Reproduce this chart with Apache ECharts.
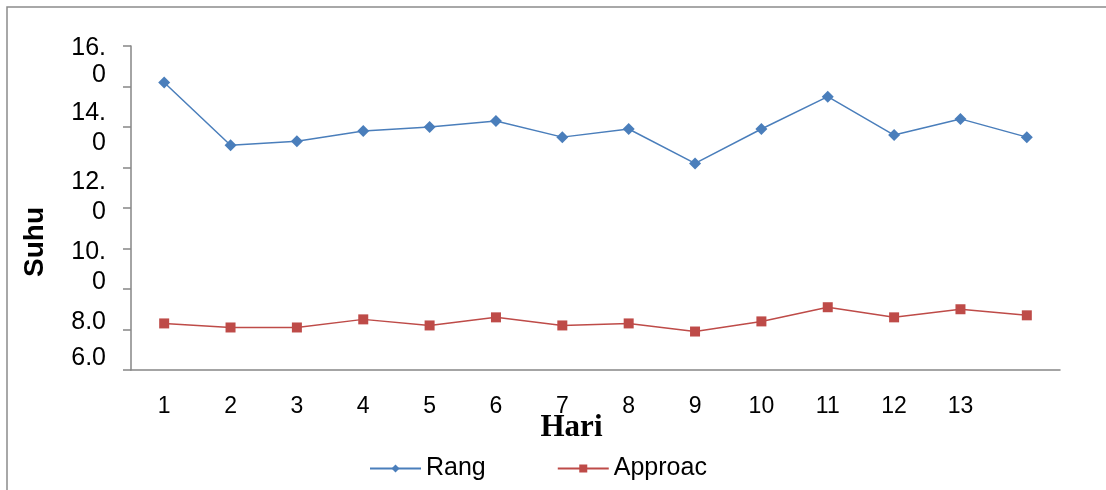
<!DOCTYPE html>
<html>
<head>
<meta charset="utf-8">
<script src="https://cdn.jsdelivr.net/npm/echarts@6/dist/echarts.min.js"></script>
<style>
  html, body { margin: 0; padding: 0; background: #fff; }
  #main { width: 1106px; height: 490px; }
</style>
</head>
<body>
<div id="main"></div>
<script>
var days = ['1', '2', '3', '4', '5', '6', '7', '8', '9', '10', '11', '12', '13', ''];
var rang = [14.2, 11.1, 11.3, 11.8, 12.0, 12.3, 11.5, 11.9, 10.2, 11.9, 13.5, 11.6, 12.4, 11.5];
var approac = [2.3, 2.1, 2.1, 2.5, 2.2, 2.6, 2.2, 2.3, 1.9, 2.4, 3.1, 2.6, 3.0, 2.7];
// the y labels come out wrapped in the original, one piece per line
var yLabels = ['16.', '0', '14.', '0', '12.', '0', '10.', '0', '8.0', '6.0'];

var chart = echarts.init(document.getElementById('main'));

var labelTops = [48, 75, 113, 143, 182, 212, 252, 282, 322, 358];
var labelTexts = [];
for (var i = 0; i < yLabels.length; i++) {
    labelTexts.push({
        type: 'text',
        x: 106,
        y: labelTops[i],
        style: {
            text: yLabels[i],
            fontFamily: '"Liberation Sans", Arial, sans-serif',
            fontSize: 25,
            fill: '#000',
            align: 'right',
            verticalAlign: 'middle'
        }
    });
}

var option = {
    backgroundColor: '#fff',
    animation: false,
    grid: {
        left: 131,
        right: 46,
        top: 46,
        bottom: 120
    },
    graphic: [
        {
            type: 'rect',
            shape: { x: 7, y: 7, width: 1120, height: 500 },
            style: { fill: 'none', stroke: '#8c8c8c', lineWidth: 1.5 }
        },
        {
            type: 'text',
            x: 35,
            y: 242,
            rotation: Math.PI / 2,
            style: {
                text: 'Suhu',
                fontFamily: '"Liberation Sans", Arial, sans-serif',
                fontWeight: 'bold',
                fontSize: 28,
                fill: '#000',
                align: 'center',
                verticalAlign: 'middle'
            }
        }
    ].concat(labelTexts),
    legend: {
        left: 364,
        top: 451,
        itemWidth: 51,
        itemHeight: 10,
        itemGap: 71,
        textStyle: {
            fontFamily: '"Liberation Sans", Arial, sans-serif',
            fontSize: 25,
            color: '#000',
            padding: [0, 0, 0, 0]
        },
        data: ['Rang', 'Approac']
    },
    xAxis: {
        type: 'category',
        data: days,
        name: 'Hari',
        nameLocation: 'middle',
        nameMoveOverlap: false,
        nameGap: 42,
        nameTextStyle: {
            fontFamily: '"Liberation Serif", "Times New Roman", serif',
            fontWeight: 'bold',
            fontSize: 31,
            color: '#000',
            padding: [0, 48, 0, 0]
        },
        axisLine: { lineStyle: { color: '#868686', width: 1.5 } },
        axisTick: { length: 8, interval: 0, lineStyle: { color: '#868686', width: 1.5 } },
        axisLabel: {
            interval: 0,
            margin: 25,
            fontFamily: '"Liberation Sans", Arial, sans-serif',
            fontSize: 23,
            color: '#000'
        }
    },
    yAxis: {
        type: 'value',
        min: 0,
        max: 16,
        interval: 2,
        axisLine: { show: true, lineStyle: { color: '#868686', width: 1.5 } },
        axisTick: { show: true, length: 8, lineStyle: { color: '#868686', width: 1.5 } },
        axisLabel: { show: false },
        splitLine: { show: false }
    },
    series: [
        {
            name: 'Rang',
            type: 'line',
            data: rang,
            symbol: 'diamond',
            symbolSize: 12,
            color: '#4a7ebb',
            lineStyle: { width: 1.5, color: '#4a7ebb' },
            itemStyle: { color: '#4a7ebb' }
        },
        {
            name: 'Approac',
            type: 'line',
            data: approac,
            symbol: 'rect',
            symbolSize: 10,
            color: '#be4b48',
            lineStyle: { width: 1.5, color: '#be4b48' },
            itemStyle: { color: '#be4b48' }
        }
    ]
};

chart.setOption(option);
</script>
</body>
</html>
